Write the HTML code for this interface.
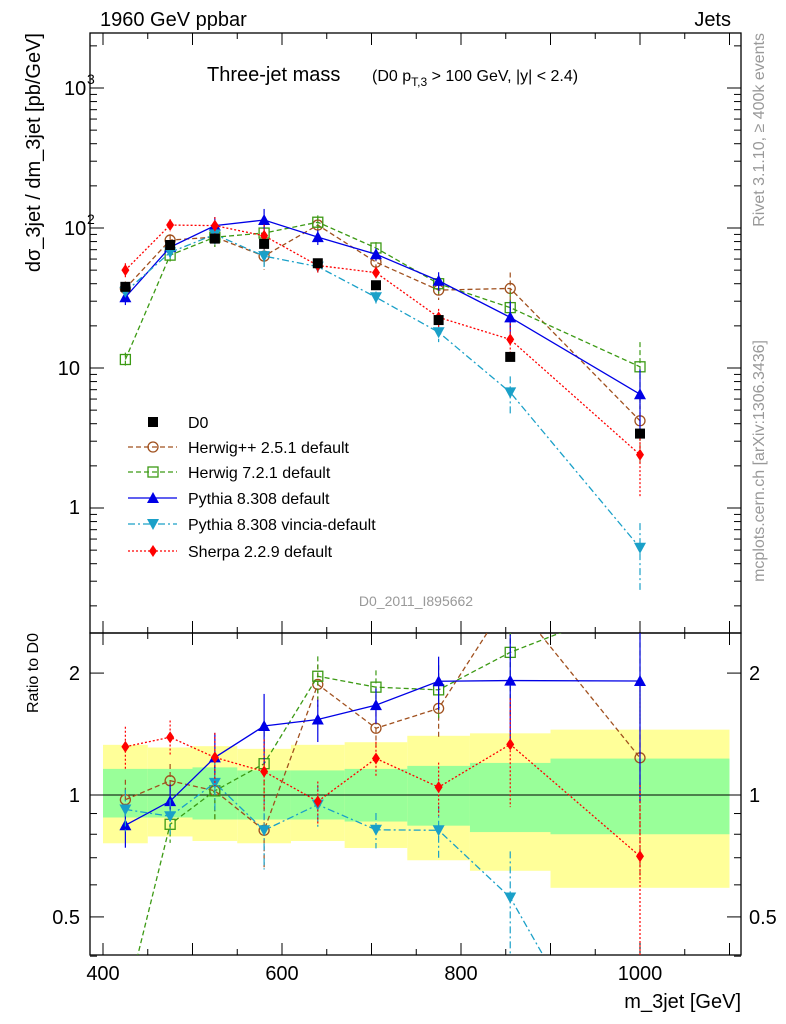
<!DOCTYPE html>
<html><head><meta charset="utf-8"><style>
html,body{margin:0;padding:0;background:#fff;width:786px;height:1024px;overflow:hidden}
svg{display:block;font-family:"Liberation Sans",sans-serif}
</style></head><body>
<svg id="c" width="786" height="1024" xmlns="http://www.w3.org/2000/svg"></svg>
<script>
const xCenters=[425,475,525,580,640,705,775,855,1000];
const binEdges=[400,450,500,550,610,670,740,810,900,1100];
const d0=[38,75.6,84,77,56,39,22,12,3.4];
const herwigpp=[37,82,86,63,105,57,36,37,4.2];
const herwig7=[11.5,64,86,92,110,72,40,27,10.2];
const pythia=[32,73,104,114,86,65,42,23,6.5];
const vincia=[35,67,90,63,53,32,18,6.7,0.52];
const sherpa=[50,105,104,88,54,48,23,16,2.4];
const greenUp=[1.16,1.16,1.17,1.15,1.15,1.16,1.18,1.2,1.23];
const greenDn=[0.88,0.88,0.87,0.87,0.87,0.86,0.84,0.81,0.80];
const yellowUp=[1.33,1.31,1.32,1.30,1.33,1.35,1.4,1.42,1.45];
const yellowDn=[0.76,0.79,0.77,0.76,0.77,0.74,0.69,0.65,0.59];
const relErr=[0.12,0.1,0.15,0.2,0.12,0.1,0.15,0.3,0.5];
const xTicks=[400,600,800,1000];
const NS="http://www.w3.org/2000/svg";
const svg=document.getElementById('c');
const L=90,R=741,T=33,M=633,B=955;
const X=v=>103+(v-400)*0.895;
const Y=v=>368-(Math.log10(v)-1)*140;
const YR=v=>795-Math.log10(v)*405;
function el(tag,a,p){const e=document.createElementNS(NS,tag);for(const k in a)e.setAttribute(k,a[k]);(p||svg).appendChild(e);return e;}
function tx(s,x,y,size,anchor,extra){const t=el('text',Object.assign({x:x,y:y,'font-size':size,'text-anchor':anchor||'start'},extra||{}));t.textContent=s;return t;}
const defs=el('defs',{});
const c1=el('clipPath',{id:'cm'},defs);el('rect',{x:L,y:T,width:R-L,height:M-T},c1);
const c2=el('clipPath',{id:'cr'},defs);el('rect',{x:L,y:M,width:R-L,height:B-M},c2);
const gb=el('g',{'clip-path':'url(#cr)'});

for(let i=0;i<xCenters.length;i++){
 let r=el('rect',{x:X(binEdges[i]),y:YR(yellowUp[i]),width:X(binEdges[i+1])-X(binEdges[i]),height:YR(yellowDn[i])-YR(yellowUp[i]),fill:'#ffff99'},gb);
 
}
for(let i=0;i<xCenters.length;i++){
 let r=el('rect',{x:X(binEdges[i]),y:YR(greenUp[i]),width:X(binEdges[i+1])-X(binEdges[i]),height:YR(greenDn[i])-YR(greenUp[i]),fill:'#99ff99'},gb);
 
}
el('line',{x1:L,x2:R,y1:YR(1),y2:YR(1),stroke:'#000','stroke-width':1});
el('rect',{x:L,y:T,width:R-L,height:M-T,fill:'none',stroke:'#000','stroke-width':1.3});
el('rect',{x:L,y:M,width:R-L,height:B-M,fill:'none',stroke:'#000','stroke-width':1.3});
for(let v=400;v<=1100;v+=50){
 const maj=v%100===0,len=maj?12:6;
 [[T,1],[M,-1],[M,1],[B,-1]].forEach(([y,d])=>el('line',{x1:X(v),x2:X(v),y1:y,y2:y+d*len,stroke:'#000'}));
}
xTicks.forEach(v=>{const t=tx(String(v),X(v),980,20,'middle');});
for(let e=-1;e<=3;e++){for(let m=1;m<10;m++){const v=m*Math.pow(10,e);const y=Y(v);if(y<T||y>M)continue;const len=m===1?14:7;
 el('line',{x1:L,x2:L+len,y1:y,y2:y,stroke:'#000'});el('line',{x1:R,x2:R-len,y1:y,y2:y,stroke:'#000'});}}
tx('10',64,95,20,'start');tx('3',87,84,14,'start');
tx('10',64,235,20,'start');tx('2',87,224,14,'start');
tx('10',80,375,20,'end');tx('1',80,514,20,'end');
[0.4,0.5,0.6,0.7,0.8,0.9,1,2].forEach(v=>{const y=YR(v);const len=(v===0.5||v===1||v===2)?14:7;
 el('line',{x1:L,x2:L+len,y1:y,y2:y,stroke:'#000'});el('line',{x1:R,x2:R-len,y1:y,y2:y,stroke:'#000'});});
[[0.5,'0.5'],[1,'1'],[2,'2']].forEach(([v,s])=>{tx(s,80,YR(v)+7,20,'end');tx(s,749,YR(v)+7,20,'start');});
tx('1960 GeV ppbar',100,26,20,'start');tx('Jets',731,26,20,'end');
const tt=tx('Three-jet mass',207,81,20,'start');
const st=tx('(D0 p',372,81,16,'start');const s1=el('tspan',{dy:5,'font-size':12},st);s1.textContent='T,3';const s2=el('tspan',{dy:-5},st);s2.textContent=' > 100 GeV, |y| < 2.4)';
tx('D0_2011_I895662',416,606,14,'middle',{fill:'#999'});
const yt=tx('dσ_3jet / dm_3jet [pb/GeV]',0,0,20,'end',{transform:'translate(40,33) rotate(-90)'});
tx('Ratio to D0',0,0,16,'end',{transform:'translate(38,633) rotate(-90)'});
const xt=tx('m_3jet [GeV]',741,1008,20,'end');
tx('Rivet 3.1.10, ≥ 400k events',0,0,16,'end',{transform:'translate(764,33) rotate(-90)',fill:'#999'});
tx('mcplots.cern.ch [arXiv:1306.3436]',0,0,16,'end',{transform:'translate(764,340) rotate(-90)',fill:'#999'});
function marker(g,type,x,y,col){
 if(type==='sq')el('rect',{x:x-5,y:y-5,width:10,height:10,fill:'#000'},g);
 else if(type==='circ')el('circle',{cx:x,cy:y,r:5,fill:'none',stroke:col,'stroke-width':1.3},g);
 else if(type==='osq')el('rect',{x:x-5,y:y-5,width:10,height:10,fill:'none',stroke:col,'stroke-width':1.3},g);
 else if(type==='tri')el('polygon',{points:`${x},${y-6} ${x-6},${y+5} ${x+6},${y+5}`,fill:col},g);
 else if(type==='itri')el('polygon',{points:`${x},${y+6} ${x-6},${y-5} ${x+6},${y-5}`,fill:col},g);
 else if(type==='dia')el('polygon',{points:`${x},${y-6} ${x-4},${y} ${x},${y+6} ${x+4},${y}`,fill:col},g);
}
const series=[
 {name:'herwigpp',data:herwigpp,col:'#a0501e',dash:'5,3',m:'circ',lab:'Herwig++ 2.5.1 default'},
 {name:'herwig7',data:herwig7,col:'#3c9a14',dash:'5,3',m:'osq',lab:'Herwig 7.2.1 default'},
 {name:'pythia',data:pythia,col:'#0000e6',dash:'',m:'tri',lab:'Pythia 8.308 default'},
 {name:'vincia',data:vincia,col:'#1aa0c8',dash:'7,3,2,3',m:'itri',lab:'Pythia 8.308 vincia-default'},
 {name:'sherpa',data:sherpa,col:'#ff0000',dash:'2,2',m:'dia',lab:'Sherpa 2.2.9 default'}
];
function drawSeries(s,yf,vals,clip,suffix){
 const g=el('g',{'clip-path':clip});
 
 el('polyline',{points:xCenters.map((x,i)=>X(x)+','+yf(vals[i])).join(' '),fill:'none',stroke:s.col,'stroke-width':1.3,'stroke-dasharray':s.dash},g);
 xCenters.forEach((x,i)=>{const v=vals[i],e=relErr[i];
  el('line',{x1:X(x),x2:X(x),y1:yf(v*(1+e)),y2:yf(Math.max(v*(1-e),1e-3)),stroke:s.col,'stroke-width':1.2,'stroke-dasharray':s.dash},g);
  marker(g,s.m,X(x),yf(v),s.col);});
}
series.forEach(s=>{
 drawSeries(s,Y,s.data,'url(#cm)','main');
 drawSeries(s,YR,s.data.map((v,i)=>v/d0[i]),'url(#cr)','ratio');
});
const gd=el('g',{'clip-path':'url(#cm)'});
xCenters.forEach((x,i)=>marker(gd,'sq',X(x),Y(d0[i]),'#000'));
const lg=el('g',{});
const ly=[422,447,472,498,524,551];
marker(lg,'sq',153,ly[0],'#000');
const d0t=tx('D0',188,ly[0]+6,16,'start');


series.forEach((s,i)=>{const y=ly[i+1];
 el('line',{x1:128,x2:177,y1:y,y2:y,stroke:s.col,'stroke-width':1.3,'stroke-dasharray':s.dash},lg);
 marker(lg,s.m,153,y,s.col);
 const t=tx(s.lab,188,y+6,16,'start');
 
 });
</script>
</body></html>
